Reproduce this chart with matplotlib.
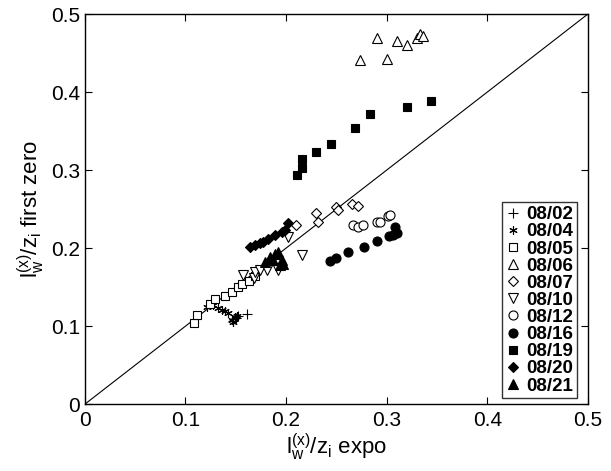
import matplotlib
matplotlib.use("Agg")
import matplotlib.pyplot as plt

plt.rcParams['font.family'] = ['Liberation Sans', 'DejaVu Sans']
plt.rcParams['mathtext.fontset'] = 'custom'
plt.rcParams['mathtext.rm'] = 'Liberation Sans'
plt.rcParams['mathtext.it'] = 'Liberation Sans'

# 08/02 (+)
x_0802 = [0.147, 0.150, 0.152, 0.161]
y_0802 = [0.107, 0.110, 0.113, 0.115]
# 08/04 (*)
x_0804 = [0.121, 0.127, 0.132, 0.136, 0.139, 0.1425, 0.146, 0.1475, 0.149, 0.151]
y_0804 = [0.125, 0.127, 0.123, 0.1205, 0.119, 0.117, 0.108, 0.105, 0.112, 0.1135]
# 08/05 (open square)
x_0805 = [0.108, 0.111, 0.124, 0.129, 0.139, 0.146, 0.152, 0.156, 0.163, 0.169]
y_0805 = [0.1035, 0.114, 0.129, 0.135, 0.139, 0.144, 0.150, 0.154, 0.158, 0.164]
# 08/06 (open triangle up)
x_0806 = [0.274, 0.290, 0.300, 0.310, 0.320, 0.330, 0.333, 0.336]
y_0806 = [0.441, 0.469, 0.442, 0.466, 0.460, 0.470, 0.474, 0.472]
# 08/07 (open diamond)
x_0807 = [0.210, 0.230, 0.232, 0.250, 0.252, 0.266, 0.272]
y_0807 = [0.2295, 0.2445, 0.234, 0.253, 0.249, 0.257, 0.254]
# 08/10 (open triangle down)
x_0810 = [0.157, 0.168, 0.169, 0.174, 0.1806, 0.192, 0.202, 0.2154]
y_0810 = [0.165, 0.162, 0.1696, 0.172, 0.172, 0.172, 0.2145, 0.191]
# 08/12 (open circle)
x_0812 = [0.2667, 0.272, 0.2767, 0.290, 0.293, 0.3015, 0.303]
y_0812 = [0.2295, 0.2273, 0.230, 0.2337, 0.234, 0.2414, 0.243]
# 08/16 (filled circle)
x_0816 = [0.2435, 0.2495, 0.2618, 0.2773, 0.2906, 0.3026, 0.306, 0.308, 0.310]
y_0816 = [0.1838, 0.1868, 0.1945, 0.2017, 0.2094, 0.2158, 0.217, 0.2273, 0.220]
# 08/19 (filled square)
x_0819 = [0.211, 0.216, 0.2157, 0.2296, 0.2442, 0.2687, 0.283, 0.320, 0.344]
y_0819 = [0.2936, 0.303, 0.3137, 0.3235, 0.334, 0.3543, 0.372, 0.381, 0.389]
# 08/20 (filled diamond)
x_0820 = [0.164, 0.169, 0.174, 0.177, 0.182, 0.189, 0.1955, 0.199, 0.202]
y_0820 = [0.2017, 0.204, 0.207, 0.208, 0.212, 0.2167, 0.221, 0.223, 0.2316]
# 08/21 (filled triangle up)
x_0821 = [0.179, 0.184, 0.187, 0.189, 0.192, 0.194, 0.1955, 0.197]
y_0821 = [0.182, 0.189, 0.185, 0.193, 0.195, 0.178, 0.1846, 0.180]

series = [
    ('08/02', x_0802, y_0802, '+', False, 7),
    ('08/04', x_0804, y_0804, (6, 2, 0), True, 6),
    ('08/05', x_0805, y_0805, 's', False, 5.5),
    ('08/06', x_0806, y_0806, '^', False, 6.5),
    ('08/07', x_0807, y_0807, 'D', False, 5.5),
    ('08/10', x_0810, y_0810, 'v', False, 6.5),
    ('08/12', x_0812, y_0812, 'o', False, 6.5),
    ('08/16', x_0816, y_0816, 'o', True, 6.5),
    ('08/19', x_0819, y_0819, 's', True, 5.5),
    ('08/20', x_0820, y_0820, 'D', True, 5.5),
    ('08/21', x_0821, y_0821, '^', True, 6.5),
]

fig = plt.figure(figsize=(6.11, 4.71), dpi=100)
ax = fig.add_axes([0.139, 0.142, 0.823, 0.828])

ax.plot([0, 0.5], [0, 0.5], color='black', lw=0.8, zorder=1)

for label, xs, ys, m, filled, ms in series:
    ax.plot(xs, ys, linestyle='none', marker=m, markersize=ms,
            markerfacecolor='black' if filled else 'white',
            markeredgecolor='black', markeredgewidth=0.8, color='black',
            label=label, zorder=2)

ax.set_xlim(0, 0.5)
ax.set_ylim(0, 0.5)
ticks = [0, 0.1, 0.2, 0.3, 0.4, 0.5]
tick_labels = ['0', '0.1', '0.2', '0.3', '0.4', '0.5']
ax.set_xticks(ticks)
ax.set_xticklabels(tick_labels)
ax.set_yticks(ticks)
ax.set_yticklabels(tick_labels)
ax.tick_params(direction='in', top=True, right=True, labelsize=15, length=5, width=0.8)
ax.tick_params(axis='x', pad=5)
for s in ax.spines.values():
    s.set_linewidth(1.0)

ax.set_xlabel(r'$\mathregular{l_w^{(x)}/z_i}$ expo', fontsize=16, labelpad=1)
ax.set_ylabel(r'$\mathregular{l_w^{(x)}/z_i}$ first zero', fontsize=16, labelpad=3)

leg = ax.legend(loc='lower right', bbox_to_anchor=(0.978, 0.015), frameon=True,
                fancybox=False, edgecolor='black',
                prop={'weight': 'bold', 'size': 13.5}, handlelength=0.8,
                handletextpad=0.3, labelspacing=0.0, borderpad=0.2,
                borderaxespad=0.0, numpoints=1)
leg.get_frame().set_linewidth(1.0)

fig.savefig('out.png', dpi=100)
